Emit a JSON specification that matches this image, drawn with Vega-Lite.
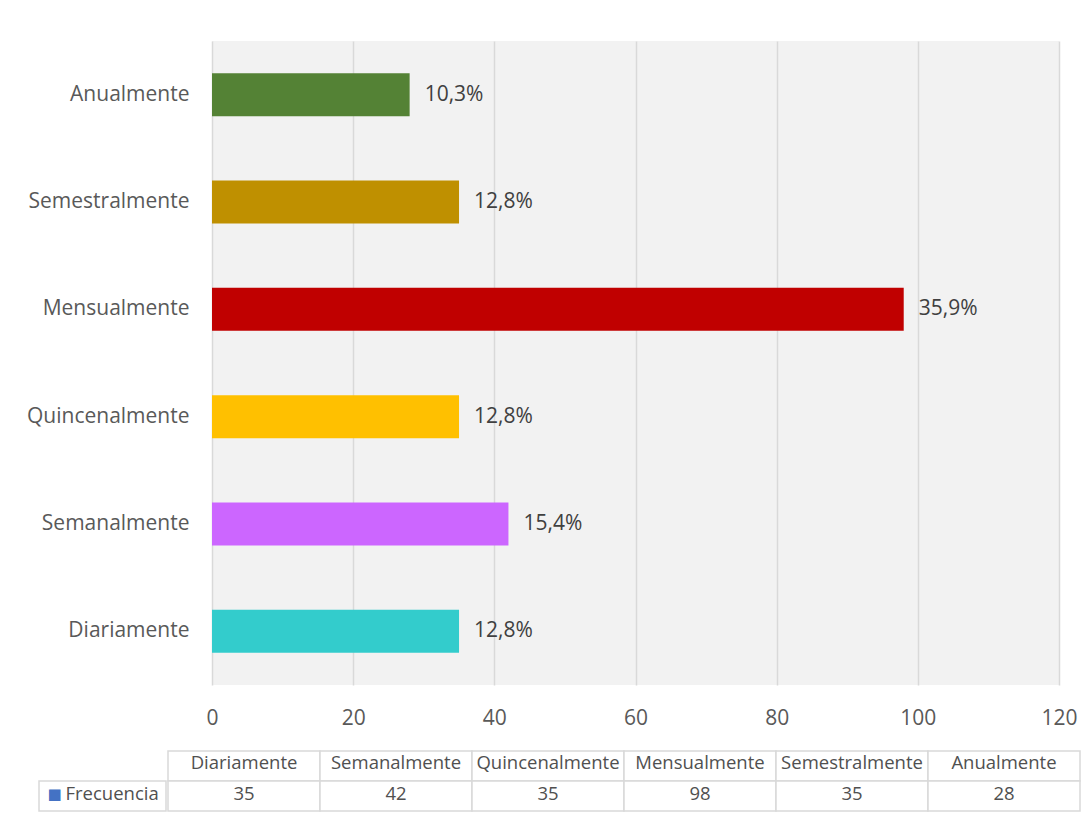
{
  "$schema": "https://vega.github.io/schema/vega-lite/v6.json",
  "background": "white",
  "padding": {"left": 22, "top": 41, "right": 0, "bottom": 0},
  "config": {"font": "Open Sans", "view": {"stroke": null}},
  "datasets": {
    "freq": [
      {"cat": "Diariamente", "freq": 35, "pct": "12,8%"},
      {"cat": "Semanalmente", "freq": 42, "pct": "15,4%"},
      {"cat": "Quincenalmente", "freq": 35, "pct": "12,8%"},
      {"cat": "Mensualmente", "freq": 98, "pct": "35,9%"},
      {"cat": "Semestralmente", "freq": 35, "pct": "12,8%"},
      {"cat": "Anualmente", "freq": 28, "pct": "10,3%"}
    ]
  },
  "spacing": 22,
  "vconcat": [
    {
      "spacing": 0,
      "hconcat": [
        {
          "width": 1,
          "height": 644,
          "data": {"values": []},
          "mark": {"type": "rect", "fill": "white"}
        },
        {
          "width": 847,
          "height": 644,
          "data": {"name": "freq"},
          "view": {"fill": "#f2f2f2", "stroke": null},
          "encoding": {
            "y": {
              "field": "cat",
              "type": "nominal",
              "sort": ["Anualmente", "Semestralmente", "Mensualmente", "Quincenalmente", "Semanalmente", "Diariamente"],
              "scale": {"paddingInner": 0.6, "paddingOuter": 0.3},
              "axis": {"title": null, "ticks": false, "domain": false, "grid": false, "labelFontSize": 21, "labelColor": "#595959", "labelPadding": 23, "minExtent": 189, "maxExtent": 189, "labelLimit": 300}
            },
            "x": {
              "field": "freq",
              "type": "quantitative",
              "scale": {"domain": [0, 120], "nice": false},
              "axis": {"title": null, "values": [0, 20, 40, 60, 80, 100, 120], "grid": true, "gridColor": "#d9d9d9", "gridWidth": 1.5, "ticks": false, "domain": false, "labelFontSize": 21, "labelColor": "#595959", "labelPadding": 22, "labelFlush": false}
            }
          },
          "layer": [
            {
              "mark": {"type": "bar"},
              "encoding": {
                "color": {
                  "field": "cat",
                  "type": "nominal",
                  "scale": {
                    "domain": ["Diariamente", "Semanalmente", "Quincenalmente", "Mensualmente", "Semestralmente", "Anualmente"],
                    "range": ["#33cccc", "#cc66ff", "#ffc000", "#c00000", "#bf9000", "#548235"]
                  },
                  "legend": null
                }
              }
            },
            {
              "mark": {"type": "text", "align": "left", "baseline": "middle", "dx": 15, "fontSize": 21, "color": "#404040"},
              "encoding": {"text": {"field": "pct"}}
            }
          ]
        }
      ]
    },
    {
      "spacing": 0,
      "hconcat": [
        {
          "width": 16,
          "height": 60,
          "data": {"values": []},
          "mark": {"type": "rect", "fill": "white"}
        },
        {
          "width": 127,
          "height": 60,
          "data": {"values": [{"serie": "Frecuencia"}]},
          "encoding": {
            "y": {
              "datum": "v",
              "type": "nominal",
              "scale": {"domain": ["h", "v"], "paddingInner": 0, "paddingOuter": 0},
              "axis": null
            }
          },
          "layer": [
            {"mark": {"type": "rect", "fill": "white", "stroke": "#d9d9d9", "strokeWidth": 1.5}},
            {
              "mark": {"type": "text", "align": "left", "baseline": "middle", "dx": -37, "dy": -2, "fontSize": 18.5, "color": "#505050"},
              "encoding": {"text": {"field": "serie"}}
            },
            {
              "mark": {"type": "text", "align": "center", "baseline": "middle", "dx": -48, "dy": -2, "font": "DejaVu Sans", "fontSize": 15, "color": "#4472c4", "text": "■"},
              "encoding": {}
            }
          ]
        },
        {
          "width": 912,
          "height": 60,
          "data": {"name": "freq"},
          "encoding": {
            "x": {
              "field": "cat",
              "type": "nominal",
              "sort": ["Diariamente", "Semanalmente", "Quincenalmente", "Mensualmente", "Semestralmente", "Anualmente"],
              "scale": {"paddingInner": 0, "paddingOuter": 0},
              "axis": null
            }
          },
          "layer": [
            {
              "mark": {"type": "rect", "fill": "white", "stroke": "#d9d9d9", "strokeWidth": 1.5},
              "encoding": {"y": {"datum": "h", "type": "nominal", "scale": {"domain": ["h", "v"], "paddingInner": 0, "paddingOuter": 0}, "axis": null}}
            },
            {
              "mark": {"type": "rect", "fill": "white", "stroke": "#d9d9d9", "strokeWidth": 1.5},
              "encoding": {"y": {"datum": "v", "type": "nominal", "scale": {"domain": ["h", "v"], "paddingInner": 0, "paddingOuter": 0}, "axis": null}}
            },
            {
              "mark": {"type": "text", "align": "center", "baseline": "middle", "dy": -3, "fontSize": 18.5, "color": "#505050"},
              "encoding": {"y": {"datum": "h", "type": "nominal", "scale": {"domain": ["h", "v"], "paddingInner": 0, "paddingOuter": 0}, "axis": null}, "text": {"field": "cat"}}
            },
            {
              "mark": {"type": "text", "align": "center", "baseline": "middle", "dy": -2, "fontSize": 18.5, "color": "#505050"},
              "encoding": {"y": {"datum": "v", "type": "nominal", "scale": {"domain": ["h", "v"], "paddingInner": 0, "paddingOuter": 0}, "axis": null}, "text": {"field": "freq"}}
            }
          ]
        }
      ]
    }
  ]
}
